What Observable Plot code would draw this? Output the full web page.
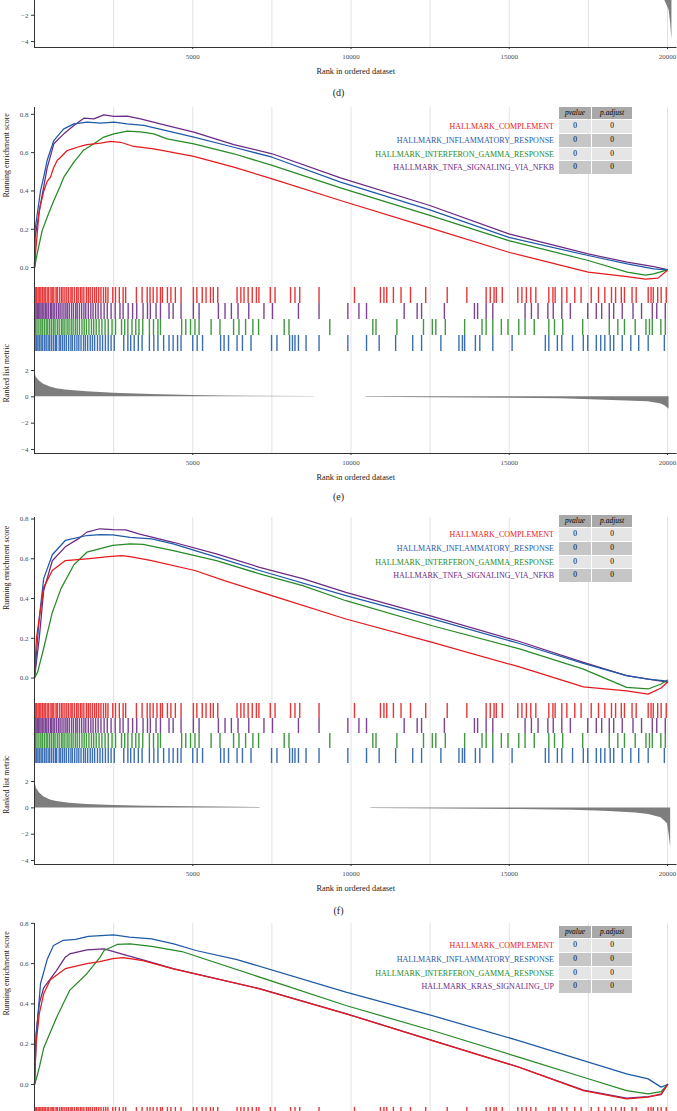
<!DOCTYPE html>
<html><head><meta charset="utf-8">
<script src="https://cdn.jsdelivr.net/npm/d3@7"></script>
<script src="https://cdn.jsdelivr.net/npm/@observablehq/plot@0.6"></script>
<style>
html,body{margin:0;padding:0;background:#fff;}
body{width:677px;height:1111px;overflow:hidden;position:relative;font-family:"Liberation Serif","DejaVu Serif",serif;}
.cap{position:absolute;left:0;width:677px;text-align:center;font-size:10px;color:#222;line-height:12px;}
.cell{position:absolute;text-align:center;font-size:7.5px;color:#000;}
.lab{position:absolute;text-align:right;font-size:8px;white-space:nowrap;}
</style></head>
<body>
<script>
// ---------------- data ----------------
const setNamesEF = ["HALLMARK_COMPLEMENT","HALLMARK_INFLAMMATORY_RESPONSE","HALLMARK_INTERFERON_GAMMA_RESPONSE","HALLMARK_TNFA_SIGNALING_VIA_NFKB"];
const setNamesG  = ["HALLMARK_COMPLEMENT","HALLMARK_INFLAMMATORY_RESPONSE","HALLMARK_INTERFERON_GAMMA_RESPONSE","HALLMARK_KRAS_SIGNALING_UP"];
const setColors  = ["#e41a1c","#1f5aa6","#268a26","#6b2a84"];
const pvalues    = [0,0,0,0];
const padjusts   = [0,0,0,0];
const captions   = ["(d)","(e)","(f)"];

const gridRanks = [2500,5000,7500,10000,12500,15000,17500,20000];
const xTickValues = [5000,10000,15000,20000];
const esTickValues = [0,0.2,0.4,0.6,0.8];
const metricTickValues = [2,0,-2,-4];
const metricTickValuesD = [-2,-4]; // the only ones left in view for the cut panel (d)

// panel (e) running enrichment scores [rank, ES]
const esE_complement = [[0,0],[40,0.09],[150,0.3],[295,0.40],[400,0.45],[506,0.472],[600,0.52],[716,0.559],[850,0.58],[1032,0.611],[1200,0.62],[1348,0.628],[1500,0.635],[1664,0.642],[2085,0.649],[2401,0.659],[2717,0.654],[3139,0.632],[3770,0.619],[5034,0.58],[6298,0.524],[7509,0.463],[9668,0.35],[12491,0.207],[14987,0.08],[17494,-0.024],[18726,-0.047],[19300,-0.06],[19700,-0.055],[19990,-0.015]];
const esE_inflam = [[0,0],[20,0.2],[190,0.40],[300,0.48],[400,0.56],[611,0.663],[800,0.70],[927,0.724],[1243,0.75],[1664,0.759],[2085,0.754],[2507,0.759],[2928,0.75],[3455,0.742],[4192,0.714],[5034,0.681],[6298,0.628],[7509,0.576],[9668,0.446],[12491,0.301],[14987,0.158],[17494,0.063],[18726,0.019],[19568,-0.007],[19990,-0.012]];
const esE_ifng = [[0,0],[84,0.071],[242,0.193],[400,0.263],[611,0.35],[800,0.42],[927,0.472],[1243,0.55],[1559,0.614],[1875,0.646],[2191,0.681],[2507,0.698],[2928,0.712],[3349,0.708],[3770,0.698],[4192,0.672],[5034,0.646],[6298,0.594],[7509,0.533],[9668,0.416],[12491,0.272],[14987,0.141],[17494,0.037],[18726,-0.024],[19300,-0.04],[19568,-0.033],[19990,-0.012]];
const esE_tnfa = [[0,0],[10,0.15],[190,0.33],[400,0.52],[611,0.646],[927,0.698],[1243,0.741],[1559,0.78],[1875,0.776],[2191,0.797],[2507,0.789],[2928,0.79],[3349,0.776],[4192,0.741],[5034,0.707],[6298,0.642],[7509,0.594],[9668,0.468],[12491,0.324],[14987,0.176],[17494,0.071],[18726,0.028],[19568,0.005],[19990,-0.01]];

// panel (f)
const esF_complement = [[0,0],[60,0.2],[290,0.456],[563,0.541],[972,0.591],[1655,0.60],[2336,0.611],[2746,0.616],[3019,0.611],[3701,0.591],[5065,0.541],[6000,0.49],[9840,0.297],[12568,0.179],[15297,0.057],[17343,-0.044],[18025,-0.055],[18707,-0.064],[19389,-0.081],[19798,-0.05],[20003,-0.02]];
const esF_inflam = [[0,0],[150,0.3],[290,0.50],[563,0.62],[972,0.692],[1655,0.717],[2063,0.722],[2473,0.72],[3019,0.708],[3701,0.70],[4383,0.675],[5747,0.608],[7111,0.541],[9840,0.415],[12568,0.298],[15297,0.175],[17343,0.074],[18707,0.012],[19389,-0.005],[20003,-0.015]];
const esF_ifng = [[0,0],[100,0.03],[290,0.15],[563,0.33],[836,0.45],[1245,0.57],[1655,0.633],[2473,0.667],[3019,0.675],[3428,0.672],[4383,0.641],[5747,0.591],[7111,0.524],[8475,0.465],[9840,0.389],[12568,0.263],[15297,0.148],[17343,0.045],[18707,-0.047],[19389,-0.055],[19798,-0.03],[20003,-0.01]];
const esF_tnfa = [[0,0],[150,0.2],[290,0.44],[563,0.59],[972,0.66],[1381,0.70],[1655,0.734],[2063,0.751],[2473,0.747],[2882,0.745],[3292,0.725],[4383,0.683],[5747,0.625],[7111,0.557],[8475,0.50],[9840,0.431],[12568,0.31],[15297,0.185],[17343,0.079],[18707,0.012],[19389,-0.005],[20003,-0.02]];

// panel (g) (partly visible)
const esG_complement = [[0,0],[50,0.2],[150,0.35],[290,0.45],[500,0.52],[972,0.575],[1655,0.60],[2063,0.61],[2473,0.625],[2800,0.63],[3428,0.615],[4383,0.574],[7111,0.475],[9840,0.351],[12568,0.218],[15297,0.086],[17343,-0.03],[18707,-0.071],[19389,-0.063],[19798,-0.046],[20003,0.0]];
const esG_inflam = [[0,0],[60,0.25],[190,0.5],[400,0.62],[600,0.69],[900,0.715],[1300,0.72],[1700,0.735],[2500,0.743],[3000,0.731],[3700,0.723],[4400,0.698],[5100,0.665],[6400,0.62],[9840,0.458],[12568,0.342],[15297,0.218],[17343,0.119],[18707,0.053],[19389,0.028],[19798,-0.013],[20003,0.0]];
const esG_ifng = [[0,0],[60,0.03],[154,0.086],[290,0.181],[700,0.334],[1109,0.467],[1655,0.55],[2063,0.63],[2200,0.665],[2610,0.695],[3019,0.698],[3701,0.685],[4656,0.66],[9840,0.392],[12568,0.268],[15297,0.136],[17343,0.036],[18707,-0.03],[19389,-0.046],[19798,-0.035],[20003,0.0]];
const esG_kras = [[0,0],[50,0.25],[150,0.4],[290,0.48],[700,0.566],[972,0.632],[1109,0.648],[1655,0.668],[2200,0.673],[2746,0.648],[3565,0.612],[4383,0.575],[7111,0.476],[9840,0.352],[12568,0.219],[15297,0.087],[17343,-0.028],[18707,-0.068],[19389,-0.06],[19798,-0.05],[20003,0.0]];

// gene hit positions (ranks) for the rug rows
const rugComplement = [20,60,110,150,200,250,300,340,400,450,520,560,610,680,720,790,850,900,960,1020,1080,1150,1190,1260,1330,1380,1450,1500,1560,1640,1700,1760,1830,1900,1960,2030,2100,2180,2250,2320,2473,2560,2680,2800,2880,3220,3400,3560,3650,3750,3870,3980,4040,4200,4310,4450,4630,5020,5130,5300,5420,5560,5650,5790,6400,6520,6620,6750,6880,7010,7090,7450,7600,8090,8230,8380,8990,10110,10930,11040,11130,11340,11580,11880,12360,13040,13660,14270,14400,14520,14590,14780,15270,15400,15540,15680,15840,16250,16380,16450,16660,16820,17070,17270,17590,17820,18020,18230,18360,18540,18640,18880,19010,19390,19480,19550,19690,19800,19960];
const rugTnfa = [15,50,90,130,170,210,260,300,350,390,440,500,540,590,640,700,760,810,870,930,990,1040,1100,1170,1230,1300,1350,1420,1490,1560,1620,1700,1780,1850,1930,2010,2100,2200,2300,2420,2550,2700,2800,2960,3100,3230,3430,3570,3660,3840,3980,4250,4380,4630,5020,5200,5810,6020,6220,6430,6770,7250,7520,8340,8990,9900,10250,10490,11680,12090,12230,12950,13900,14000,14270,14480,15500,15700,15910,16220,16390,16660,16930,17480,17750,17920,18160,18300,18570,18910,19180,19520,19660,19930];
const rugIfng = [30,80,140,200,250,310,370,420,480,540,600,650,720,780,850,900,960,1030,1090,1160,1220,1290,1350,1420,1500,1570,1640,1720,1800,1870,1950,2040,2130,2230,2330,2450,2560,2750,2850,2950,3080,3200,3300,3420,3630,3760,3900,3980,4650,4780,4930,5070,5200,5580,5860,6290,6460,6670,6900,7080,7890,8040,9330,10690,10790,11450,12290,12570,12680,12980,13590,14140,14270,14480,14750,14960,15300,15500,15790,16250,16430,16690,17320,18160,18430,18640,18980,19320,19430,19520,19790,19930];
const rugInflam = [20,70,110,160,210,260,320,370,430,480,540,600,660,700,780,830,890,950,1010,1080,1150,1200,1270,1340,1400,1470,1550,1610,1680,1760,1830,1900,1990,2070,2150,2240,2330,2420,2520,2820,2950,3040,3150,3280,3400,3630,3770,3900,4080,4250,4380,4520,4630,5000,5140,5310,5880,5990,6130,6400,6570,6840,7490,7660,8060,8150,8230,8340,8580,8990,9900,10490,10890,11410,11950,12230,12840,13410,13520,13590,13930,14070,14480,15090,16140,16250,16520,16660,17000,17340,17480,17750,17890,18020,18190,18300,18570,18840,19090,19390,19900];

// ranked list metric [rank, value]
const metricD = [[0,2.0],[60,1.4],[300,0.9],[1000,0.5],[2500,0.28],[5000,0.1],[7000,0.05],[8500,0.03],[8550,0],[10500,0],[10550,-0.04],[15000,-0.1],[18000,-0.25],[19400,-0.4],[19900,-0.8],[20050,-1.6],[20100,-2.6],[20140,-3.9]];
const metricE = [[0,1.9],[50,1.5],[154,1.2],[290,0.95],[500,0.75],[700,0.62],[972,0.52],[1655,0.38],[2500,0.28],[3700,0.18],[5000,0.1],[6000,0.06],[7000,0.04],[8800,0.03],[8850,0],[10450,0],[10500,-0.04],[12566,-0.07],[15000,-0.11],[16658,-0.15],[18022,-0.25],[19386,-0.38],[19800,-0.55],[19932,-0.7],[20050,-0.95]];
const metricF = [[0,2.1],[60,1.5],[154,1.15],[290,0.85],[500,0.6],[700,0.48],[1109,0.35],[1655,0.25],[2500,0.18],[3500,0.12],[5000,0.08],[6500,0.04],[7100,0.03],[7150,0],[10600,0],[10650,-0.04],[13000,-0.08],[15300,-0.12],[17000,-0.18],[18000,-0.25],[19000,-0.38],[19400,-0.5],[19800,-0.75],[20000,-1.2],[20050,-2.0],[20100,-3.0]];

// ---------------- drawing ----------------
const W = 677, ML = 34, MR = 0.5;
const xDomain = [0, 20300];
const GRID = "#e2e2e2", AXIS = "#333", TICKTXT = "#4d4d4d", TITLE = "#222";
const FONT = "'Liberation Serif','DejaVu Serif',serif";
const styleBase = {fontFamily: FONT, fontSize: "7px", background: "transparent", overflow: "visible"};

function place(node, top) {
  node.style.position = "absolute";
  node.style.left = "0px";
  node.style.top = top + "px";
  document.body.appendChild(node);
}

function esPlot(top, height, yDomain, series) {
  const marks = [Plot.ruleX(gridRanks, {stroke: GRID, strokeWidth: 1})];
  for (const s of series) {
    marks.push(Plot.lineY(s.pts, {x: d => d[0], y: d => d[1], stroke: s.color, strokeWidth: 1.25}));
  }
  marks.push(Plot.ruleX([0], {stroke: AXIS, strokeWidth: 1}));
  marks.push(Plot.axisY(esTickValues, {anchor: "left", tickSize: 3, tickPadding: 3, tickFormat: d3.format(".1f"), stroke: AXIS, fill: TICKTXT, fontSize: 7, label: null}));
  marks.push(Plot.text(["Running enrichment score"], {frameAnchor: "left", rotate: -90, dx: -28, fontSize: 8, fill: TITLE}));
  const svg = Plot.plot({
    width: W, height, marginLeft: ML, marginRight: MR, marginTop: 0, marginBottom: 0,
    x: {domain: xDomain, axis: null}, y: {domain: yDomain, axis: null},
    style: styleBase, marks
  });
  place(svg, top);
}

function rugPlot(top, height, rows) {
  const marks = [Plot.ruleX(gridRanks, {stroke: GRID, strokeWidth: 1})];
  for (const r of rows) {
    marks.push(Plot.tickX(r.ticks, {x: d => d, y: () => r.key, stroke: r.color, strokeWidth: 1.4, strokeOpacity: 0.88}));
  }
  marks.push(Plot.ruleX([0], {stroke: AXIS, strokeWidth: 1}));
  const svg = Plot.plot({
    width: W, height, marginLeft: ML, marginRight: MR, marginTop: 0, marginBottom: 0,
    x: {domain: xDomain, axis: null},
    y: {type: "band", domain: rows.map(r => r.key), padding: 0, axis: null},
    style: styleBase, marks
  });
  place(svg, top);
}

function metricPlot(top, frameH, yDomain, pts, yTicks) {
  const MB = 34;
  const svg = Plot.plot({
    width: W, height: frameH + MB, marginLeft: ML, marginRight: MR, marginTop: 0, marginBottom: MB,
    x: {domain: xDomain}, y: {domain: yDomain},
    style: styleBase,
    marks: [
      Plot.ruleX(gridRanks, {stroke: GRID, strokeWidth: 1}),
      Plot.areaY(pts, {x: d => d[0], y1: 0, y2: d => d[1], fill: "#7d7d7d"}),
      Plot.ruleX([0], {stroke: AXIS, strokeWidth: 1}),
      Plot.ruleY([yDomain[0]], {stroke: AXIS, strokeWidth: 1}),
      Plot.axisY(yTicks, {anchor: "left", tickSize: 3, tickPadding: 3, stroke: AXIS, fill: TICKTXT, fontSize: 7, label: null}),
      Plot.axisX(xTickValues, {anchor: "bottom", tickSize: 2, tickPadding: 5, tickFormat: d3.format("d"), stroke: AXIS, fill: TICKTXT, fontSize: 7, label: null}),
      Plot.text(["Ranked list metric"], {frameAnchor: "left", rotate: -90, dx: -28, fontSize: 8, fill: TITLE}),
      Plot.text(["Rank in ordered dataset"], {frameAnchor: "bottom", dy: 26, fontSize: 8.3, fill: TITLE})
    ]
  });
  place(svg, top);
}

function tableAt(top, names, colors) {
  const hdrH = 13.3, rowH = 13.7, x0 = 559, c1 = 33, c2 = 40;
  const cell = (x, y, w, h, bg, txt, italic) => {
    const d = document.createElement("div");
    d.className = "cell";
    Object.assign(d.style, {left: x + "px", top: y + "px", width: w + "px", height: h + "px", lineHeight: h + "px", background: bg, fontStyle: italic ? "italic" : "normal"});
    d.textContent = txt;
    document.body.appendChild(d);
  };
  cell(x0, top, c1 - 1, hdrH - 1, "#a9a9a9", "pvalue", true);
  cell(x0 + c1, top, c2, hdrH - 1, "#a9a9a9", "p.adjust", true);
  names.forEach((n, i) => {
    const y = top + hdrH + i * rowH;
    const bg = i % 2 === 0 ? "#e5e5e5" : "#c6c6c6";
    cell(x0, y, c1 - 1, rowH - 1, bg, String(pvalues[i]));
    cell(x0 + c1, y, c2, rowH - 1, bg, String(padjusts[i]));
    const l = document.createElement("div");
    l.className = "lab";
    Object.assign(l.style, {right: (W - 554) + "px", top: y + "px", height: rowH + "px", lineHeight: rowH + "px", color: colors[i]});
    l.textContent = n;
    document.body.appendChild(l);
  });
}

function caption(text, y) {
  const d = document.createElement("div");
  d.className = "cap";
  d.style.top = (y - 6) + "px";
  d.textContent = text;
  document.body.appendChild(d);
}

const [cRed, cBlue, cGreen, cPurple] = setColors;
const rugRows = [
  {key: "complement", color: cRed, ticks: rugComplement},
  {key: "tnfa", color: cPurple, ticks: rugTnfa},
  {key: "ifng", color: cGreen, ticks: rugIfng},
  {key: "inflam", color: cBlue, ticks: rugInflam}
];

// (d) bottom part
metricPlot(-55, 102, [-4.45, 3.3], metricD, metricTickValuesD);
caption(captions[0], 93);

// (e)
esPlot(107, 180, [-0.104, 0.8355], [
  {color: cPurple, pts: esE_tnfa}, {color: cGreen, pts: esE_ifng},
  {color: cBlue, pts: esE_inflam}, {color: cRed, pts: esE_complement}]);
tableAt(107, setNamesEF, setColors);
rugPlot(287, 64, rugRows);
metricPlot(351, 102, [-4.30, 3.44], metricE, metricTickValues);
caption(captions[1], 497);

// (f)
esPlot(517, 185, [-0.123, 0.8076], [
  {color: cPurple, pts: esF_tnfa}, {color: cGreen, pts: esF_ifng},
  {color: cBlue, pts: esF_inflam}, {color: cRed, pts: esF_complement}]);
tableAt(515, setNamesEF, setColors);
rugPlot(702, 61, rugRows);
metricPlot(763, 101, [-4.30, 3.37], metricF, metricTickValues);
caption(captions[2], 911);

// (g) top part
esPlot(923, 184, [-0.114, 0.799], [
  {color: cPurple, pts: esG_kras}, {color: cGreen, pts: esG_ifng},
  {color: cBlue, pts: esG_inflam}, {color: cRed, pts: esG_complement}]);
tableAt(926, setNamesG, setColors);
rugPlot(1107, 64, rugRows);
</script>
</body></html>
